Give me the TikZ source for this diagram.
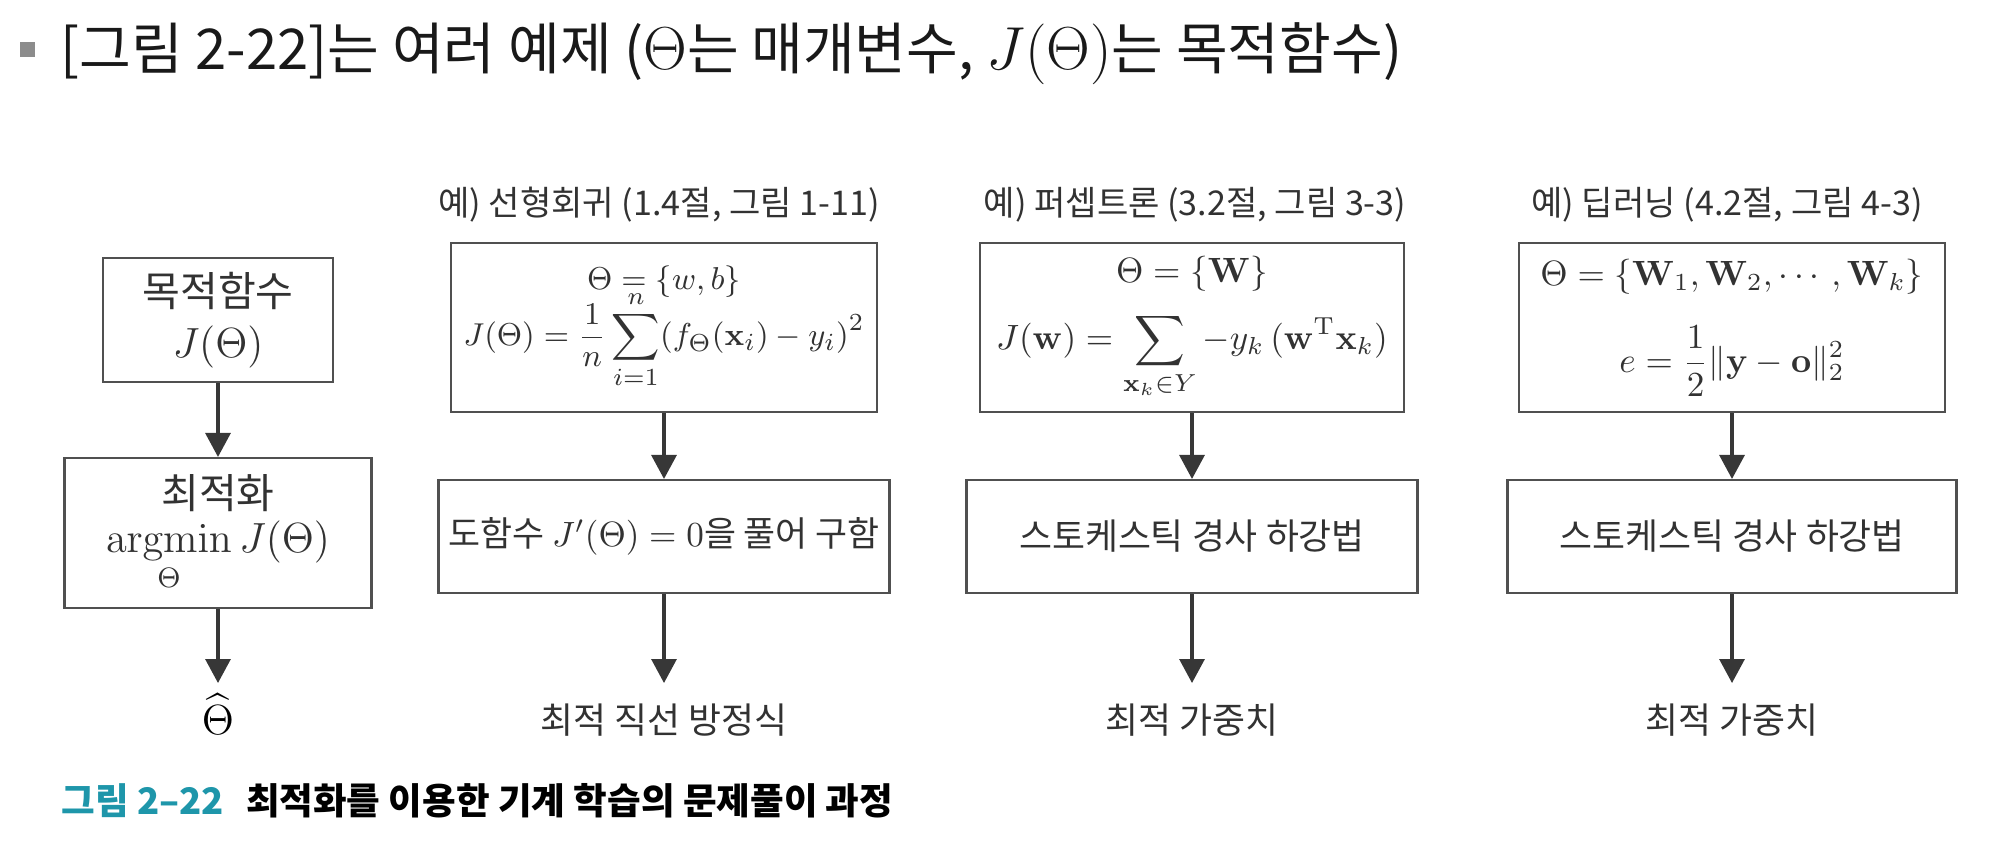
\documentclass[tikz,border=0pt]{standalone}
\usepackage{amsmath,amssymb}
\usepackage[no-math]{fontspec}
\setmainfont{Noto Sans CJK KR}
\usepackage{tikz}
\usetikzlibrary{positioning,arrows.meta}
\definecolor{line-gray}{RGB}{80,80,80}
\definecolor{arrow-gray}{RGB}{55,55,55}
\definecolor{text-gray}{RGB}{50,50,50}
\definecolor{bullet-gray}{RGB}{140,140,140}
\definecolor{caption-teal}{RGB}{30,150,170}

\begin{document}
\begin{tikzpicture}
[
  box/.style={rectangle,draw=line-gray,line width=0.6pt,align=center,inner sep=0pt,text=text-gray},
  bigfont/.style={font=\fontsize{11.7pt}{14.5pt}\selectfont},
  mathfont/.style={font=\fontsize{10pt}{12pt}\selectfont},
  smallfont/.style={font=\fontsize{10.2pt}{12pt}\selectfont},
  title/.style={font=\fontsize{9.7pt}{11.5pt}\selectfont,text=text-gray},
  result/.style={smallfont,text=text-gray,inner xsep=0pt,inner ysep=0.2cm,anchor=north},
  arr/.style={draw=arrow-gray,line width=0.9pt,-{Triangle[width=0.25cm,length=0.24cm]}},
]
\useasboundingbox (0,0) rectangle (20,-8.53);

\node[fill=bullet-gray,minimum size=0.15cm,inner sep=0pt] (bullet) at (0.275,-0.495) {};
\node[anchor=west,inner sep=0pt,font=\fontsize{16pt}{19pt}\selectfont,text=black!90] (heading) at (0.60,-0.54)
  {[그림 2-22]는 여러 예제 ($\Theta$는 매개변수, $J(\Theta)$는 목적함수)};

% left column
\node[box,bigfont,minimum width=2.3cm,minimum height=1.24cm] (obj) at (2.18,-3.20) {목적함수\\$J(\Theta)$};
\node[box,bigfont,minimum width=3.07cm,minimum height=1.5cm] (opt) at (2.18,-5.33)
  {최적화\\[-2pt]$\displaystyle\operatorname*{argmin}_{\Theta} J(\Theta)$};
\node[bigfont,inner xsep=0pt,inner ysep=0.1cm,anchor=north] (thetahat) at (2.18,-6.83) {$\widehat{\Theta}$};

% examples
\node[title] (title2) at (6.59,-2.05) {예) 선형회귀 (1.4절, 그림 1-11)};
\node[title] (title3) at (11.95,-2.05) {예) 퍼셉트론 (3.2절, 그림 3-3)};
\node[title] (title4) at (17.27,-2.05) {예) 딥러닝 (4.2절, 그림 4-3)};

\node[box,font=\fontsize{9.3pt}{11.5pt}\selectfont,minimum width=4.26cm,minimum height=1.69cm] (eq2) at (6.64,-3.275)
  {$\Theta = \{w, b\}$\\[-3pt]$\displaystyle J(\Theta)=\frac{1}{n}\sum_{i=1}^{n}(f_{\Theta}(\mathbf{x}_i)-y_i)^2$};
\node[box,mathfont,minimum width=4.24cm,minimum height=1.69cm] (eq3) at (11.92,-3.275)
  {$\Theta = \{\mathbf{W}\}$\\[5pt]$\displaystyle J(\mathbf{w}) = \sum_{\mathbf{x}_k\in Y} -y_k\,(\mathbf{w}^{\mathrm{T}}\mathbf{x}_k)$};
\node[box,mathfont,minimum width=4.26cm,minimum height=1.69cm] (eq4) at (17.32,-3.275)
  {$\Theta = \{\mathbf{W}_1, \mathbf{W}_2, \cdots, \mathbf{W}_k\}$\\[8pt]$\displaystyle e = \frac{1}{2}\lVert\mathbf{y}-\mathbf{o}\rVert_2^2$};

\node[box,font=\fontsize{9.9pt}{12pt}\selectfont,minimum width=4.51cm,minimum height=1.13cm] (sol2) at (6.64,-5.365) {도함수 $J'(\Theta)=0$을 풀어 구함};
\node[box,smallfont,minimum width=4.51cm,minimum height=1.13cm] (sol3) at (11.92,-5.365) {스토케스틱 경사 하강법};
\node[box,smallfont,minimum width=4.49cm,minimum height=1.13cm] (sol4) at (17.32,-5.365) {스토케스틱 경사 하강법};

\node[result] (res2) at (6.64,-6.83) {최적 직선 방정식};
\node[result] (res3) at (11.92,-6.83) {최적 가중치};
\node[result] (res4) at (17.32,-6.83) {최적 가중치};

\foreach \a/\b in {obj/opt,opt/thetahat,eq2/sol2,sol2/res2,eq3/sol3,sol3/res3,eq4/sol4,sol4/res4}
  \draw[arr] (\a) -- (\b);

\node[anchor=west,inner sep=0pt,font=\fontsize{10.4pt}{12.5pt}\selectfont\bfseries] (caption) at (0.61,-8.01)
  {\textcolor{caption-teal}{그림 2–22}\hspace{0.6em}최적화를 이용한 기계 학습의 문제풀이 과정};
\end{tikzpicture}
\end{document}
